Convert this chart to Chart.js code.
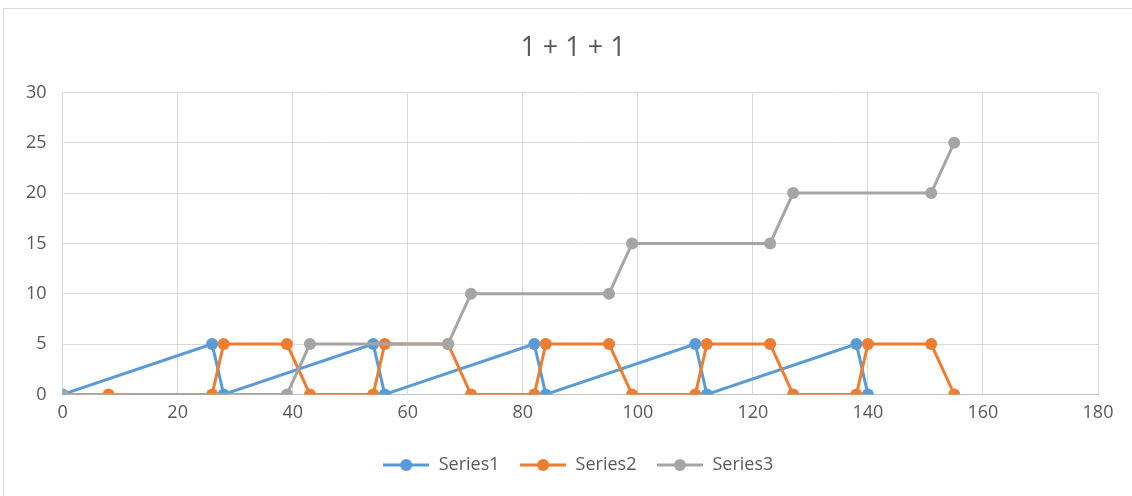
<!DOCTYPE html>
<html>
<head>
<meta charset="utf-8">
<script src="https://cdn.jsdelivr.net/npm/chart.js@4"></script>
<style>
  body { margin: 0; background: #fff; }
  #wrap { position: absolute; left: 0; top: 0; width: 1132px; height: 496px; }
  #frame { position: absolute; left: 3px; top: 8px; width: 1130px; height: 490px; border: 1px solid #d9d9d9; box-sizing: border-box; }
  canvas { position: absolute; left: 0; top: 0; }
</style>
</head>
<body>
<div id="wrap">
  <div id="frame"></div>
  <canvas id="c" width="1132" height="496"></canvas>
</div>
<script>
// データ (x, y)
const s1x = [0, 26, 28, 54, 56, 82, 84, 110, 112, 138, 140];
const s1y = [0, 5, 0, 5, 0, 5, 0, 5, 0, 5, 0];

const s2x = [8, 26, 28, 39, 43, 54, 56, 67, 71, 82, 84, 95, 99, 110, 112, 123, 127, 138, 140, 151, 155];
const s2y = [0, 0, 5, 5, 0, 0, 5, 5, 0, 0, 5, 5, 0, 0, 5, 5, 0, 0, 5, 5, 0];

const s3x = [0, 39, 43, 67, 71, 95, 99, 123, 127, 151, 155];
const s3y = [0, 0, 5, 5, 10, 10, 15, 15, 20, 20, 25];

const xTicks = [0, 20, 40, 60, 80, 100, 120, 140, 160, 180];
const yTicks = [0, 5, 10, 15, 20, 25, 30];

const names = ["Series1", "Series2", "Series3"];
const colors = ["#5b9bd5", "#ed7d31", "#a5a5a5"];

function pts(xs, ys) {
  return xs.map((x, i) => ({ x: x, y: ys[i] }));
}

// 凡例のアイコン（線＋丸）
function legendIcon(color) {
  const cv = document.createElement("canvas");
  cv.width = 46; cv.height = 14;
  const g = cv.getContext("2d");
  g.strokeStyle = color;
  g.lineWidth = 3;
  g.beginPath(); g.moveTo(0, 7); g.lineTo(46, 7); g.stroke();
  g.fillStyle = color;
  g.beginPath(); g.arc(23, 7, 6, 0, Math.PI * 2); g.fill();
  return cv;
}

// タイトルと凡例をプロットの中央に寄せる
const centerBlocks = {
  id: "centerBlocks",
  afterLayout(chart) {
    if (chart.titleBlock) chart.titleBlock.left = 48;
    if (chart.legend) chart.legend.left = 58;
  }
};

const series = [pts(s1x, s1y), pts(s2x, s2y), pts(s3x, s3y)];

const FONT = "'Open Sans', 'Noto Sans', sans-serif";
const TXT = "#595959";

new Chart(document.getElementById("c"), {
  type: "scatter",
  data: {
    datasets: series.map((d, i) => ({
      label: names[i],
      data: d,
      showLine: true,
      borderColor: colors[i],
      backgroundColor: colors[i],
      borderWidth: 3,
      pointRadius: 6,
      pointHoverRadius: 6,
      pointBorderWidth: 0,
      order: 3 - i
    }))
  },
  options: {
    responsive: false,
    animation: false,
    layout: { padding: { left: 10, right: 34, top: 32, bottom: 12 } },
    plugins: {
      title: {
        display: true,
        text: "1 + 1 + 1",
        color: TXT,
        font: { family: FONT, size: 27, weight: "normal" },
        padding: { top: 0, bottom: 28 }
      },
      legend: {
        position: "bottom",
        labels: {
          color: TXT,
          font: { family: FONT, size: 18 },
          usePointStyle: true,
          pointStyleWidth: 47,
          boxHeight: 14,
          padding: 20,
          generateLabels: chart => names.map((n, i) => ({
            text: n,
            datasetIndex: i,
            pointStyle: legendIcon(colors[i]),
            fontColor: TXT,
            fillStyle: colors[i],
            strokeStyle: colors[i],
            lineWidth: 0,
            hidden: false
          }))
        }
      },
      tooltip: { enabled: false }
    },
    scales: {
      x: {
        type: "linear",
        min: 0,
        max: 180,
        afterBuildTicks: ax => { ax.ticks = xTicks.map(v => ({ value: v })); },
        afterFit: ax => { ax.height += 4; },
        ticks: { color: TXT, font: { family: FONT, size: 18 }, padding: 8 },
        grid: { color: "#d9d9d9", drawTicks: false },
        border: { color: "#bfbfbf" }
      },
      y: {
        min: 0,
        max: 30,
        afterBuildTicks: ax => { ax.ticks = yTicks.map(v => ({ value: v })); },
        ticks: { color: TXT, font: { family: FONT, size: 18 }, padding: 16 },
        grid: { color: "#d9d9d9", drawTicks: false },
        border: { display: false }
      }
    }
  },
  plugins: [centerBlocks]
});
</script>
</body>
</html>
